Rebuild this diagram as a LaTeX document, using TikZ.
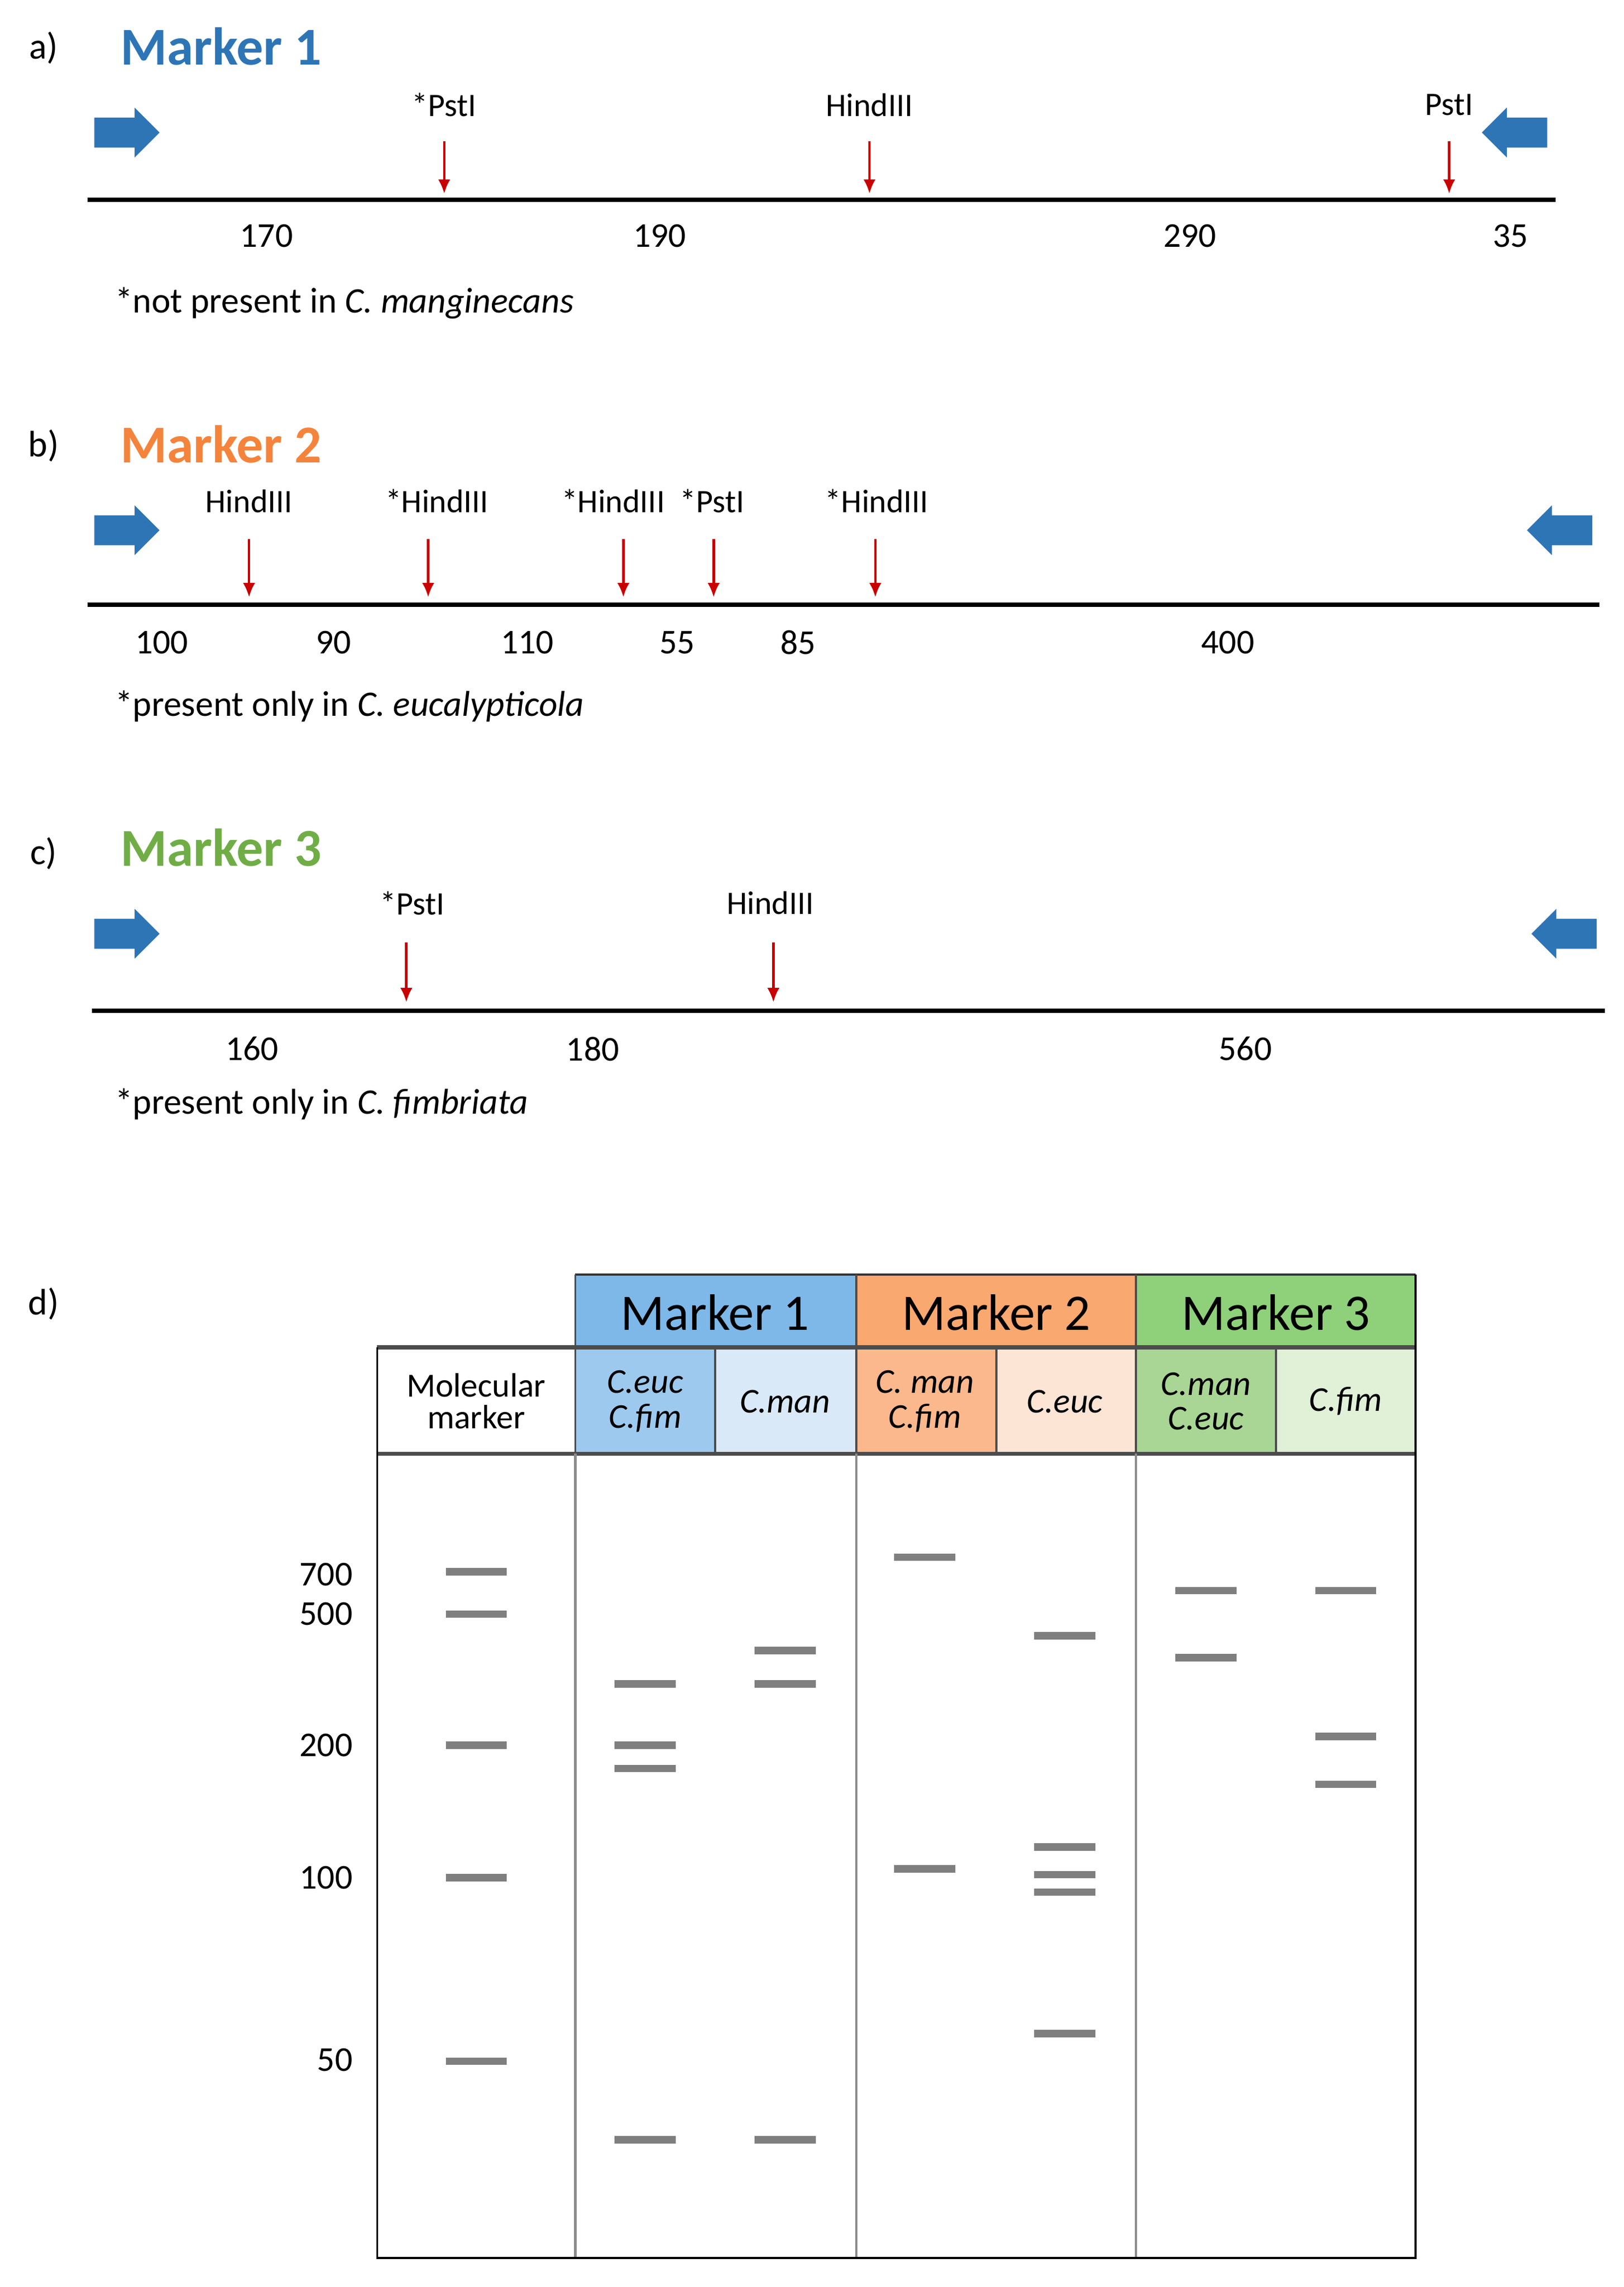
\documentclass[tikz,border=0pt]{standalone}
\usepackage{fontspec}
\setmainfont{Carlito}
\usetikzlibrary{positioning,shapes.arrows,arrows.meta}
\definecolor{mblue}{RGB}{46,117,182}
\definecolor{morange}{RGB}{244,132,60}
\definecolor{mgreen}{RGB}{112,173,71}
\definecolor{cutred}{RGB}{200,0,0}
\definecolor{band}{RGB}{127,127,127}
\definecolor{hblue}{RGB}{125,184,232}
\definecolor{sblue}{RGB}{157,201,238}
\definecolor{lblue}{RGB}{218,233,247}
\definecolor{horange}{RGB}{249,168,112}
\definecolor{sorange}{RGB}{250,184,140}
\definecolor{lorange}{RGB}{252,229,213}
\definecolor{hgreen}{RGB}{143,208,122}
\definecolor{sgreen}{RGB}{169,214,148}
\definecolor{lgreen}{RGB}{224,241,216}
\newcommand{\fs}[1]{\fontsize{#1}{#1}\selectfont}
\tikzset{
  title/.style={anchor=west,font=\fs{26}\bfseries},
  panel/.style={anchor=center,font=\fs{18}},
  site/.style={font=\fs{16}},
  len/.style={font=\fs{17}},
  note/.style={anchor=west,font=\fs{17.5}},
  primer/.style={single arrow,fill=mblue,minimum height=1.12cm,inner xsep=0pt,inner ysep=0.25cm,single arrow head extend=0.17cm},
  cut/.style={-{Latex[length=7pt,width=6pt]},cutred,line width=1.2pt},
  dna/.style={line width=2.2pt},
  bnd/.style={band,line width=3.6pt},
  size/.style={anchor=east,font=\fs{17}}
}
\begin{document}
\begin{tikzpicture}[x=0.025cm,y=-0.025cm]
\useasboundingbox (0,0) rectangle (1115,1570);
% a) marker 1
\node[panel] (la) at (30,33) {a)};
\node[title,text=mblue] (t1) at (78,32) {Marker 1};
\node[primer] (f1) at (82,91) {};
\node[primer,shape border rotate=180] (r1) at (1045,91) {};
\coordinate (a0) at (60,137); \coordinate (a1) at (1068,137);
\draw[dna] (a0) -- (a1);
\foreach \x/\lab [count=\i] in {305/{*PstI},597/HindIII,995/PstI}{
  \node[site] (sa\i) at (\x,72) {\lab};
  \coordinate (ca\i) at (\x,97);
  \coordinate (ea\i) at (\x,133);
  \draw[cut] (ca\i) -- (ea\i);
}
\foreach \x/\n in {183/170,453/190,817/290,1037/35}
  \node[len] (na\n) at (\x,162) {\n};
\node[note] (ma) at (74,208) {*not present in \textit{C. manginecans}};
% b) marker 2
\node[panel] (lb) at (30,306) {b)};
\node[title,text=morange] (t2) at (78,305) {Marker 2};
\node[primer] (f2) at (82,364) {};
\node[primer,shape border rotate=180] (r2) at (1076,364) {};
\coordinate (b0) at (60,415); \coordinate (b1) at (1098,415);
\draw[dna] (b0) -- (b1);
\foreach \x/\lab [count=\i] in {171/HindIII,294/{*HindIII},428/{*HindIII},490/{*PstI},601/{*HindIII}}{
  \coordinate (cb\i) at (\x,370);
  \coordinate (eb\i) at (\x,410);
  \draw[cut] (cb\i) -- (eb\i);
}
\foreach \x/\lab [count=\i] in {171/HindIII,300/{*HindIII},421/{*HindIII},489/{*PstI},602/{*HindIII}}
  \node[site] (sb\i) at (\x,344) {\lab};
\foreach \x/\n in {111/100,229/90,362/110,465/55,548/85,843/400}
  \node[len] (nb\n) at (\x,441) {\n};
\node[note] (mb) at (74,485) {*present only in \textit{C. eucalypticola}};
% c) marker 3
\node[panel] (lc) at (30,586) {c)};
\node[title,text=mgreen] (t3) at (78,582) {Marker 3};
\node[primer] (f3) at (82,641) {};
\node[primer,shape border rotate=180] (r3) at (1079,641) {};
\coordinate (c0) at (63,694); \coordinate (c1) at (1102,694);
\draw[dna] (c0) -- (c1);
\foreach \x/\lab [count=\i] in {279/{*PstI},531/HindIII}{
  \coordinate (cc\i) at (\x,647);
  \coordinate (ec\i) at (\x,688);
  \draw[cut] (cc\i) -- (ec\i);
}
\node[site] (sc1) at (283,620) {*PstI};
\node[site] (sc2) at (529,620) {HindIII};
\foreach \x/\n in {173/160,407/180,855/560}
  \node[len] (nc\n) at (\x,720) {\n};
\node[note] (mc) at (74,758) {*present only in \textit{C. fimbriata}};
% d) gel
\node[panel] (ld) at (30,895) {d)};
\foreach \xa/\xb/\col/\lab in {395/588/hblue/1,588/780/horange/2,780/972/hgreen/3}
  \fill[\col] (\xa,875) rectangle (\xb,925);
\foreach \xa/\xb/\col in {395/491/sblue,491/588/lblue,588/684/sorange,684/780/lorange,780/876/sgreen,876/972/lgreen}
  \fill[\col] (\xa,925) rectangle (\xb,998);
\foreach \xm/\lab in {491/1,684/2,876/3}
  \node[font=\fs{25}] (h\lab) at (\xm,901) {Marker \lab};
\node[font=\fs{16.5},align=center] (sm) at (327,962) {Molecular\\[-1pt]marker};
\foreach \xm/\lab [count=\i] in {443/{C.euc\\C.fim},539/C.man,635/{C. man\\C.fim},731/C.euc,828/{C.man\\C.euc},924/C.fim}
  \node[font=\fs{17}\itshape,align=center] (s\i) at (\xm,962) {\lab};
\draw[black!80,line width=1pt] (395,875) -- (972,875);
\draw[black!70,line width=2pt] (259,925) -- (972,925);
\draw[black!70,line width=2pt] (259,998) -- (972,998);
\foreach \x in {395,588,780}
  \draw[black!70,line width=1pt] (\x,875) -- (\x,998);
\foreach \x in {491,684,876}
  \draw[black!70,line width=1pt] (\x,925) -- (\x,998);
\foreach \x in {395,588,780}
  \draw[black!45,line width=1.2pt] (\x,998) -- (\x,1550);
\draw[black,line width=1pt] (259,925) -- (259,1550) -- (972,1550) -- (972,875);
% sizes and bands
\foreach \y/\n in {1081/700,1108/500,1198/200,1289/100,1414/50}
  \node[size] (z\n) at (247,\y) {\n};
\foreach \x/\y in {327/1079,327/1108,327/1198,327/1289,327/1415,
  443/1156,443/1198,443/1214,443/1469,539/1133,539/1156,539/1469,
  635/1069,635/1283,731/1123,731/1268,731/1287,731/1299,731/1396,
  828/1092,828/1138,924/1092,924/1192,924/1225}
  \draw[bnd] (\x-21,\y) -- (\x+21,\y);
\end{tikzpicture}
\end{document}
